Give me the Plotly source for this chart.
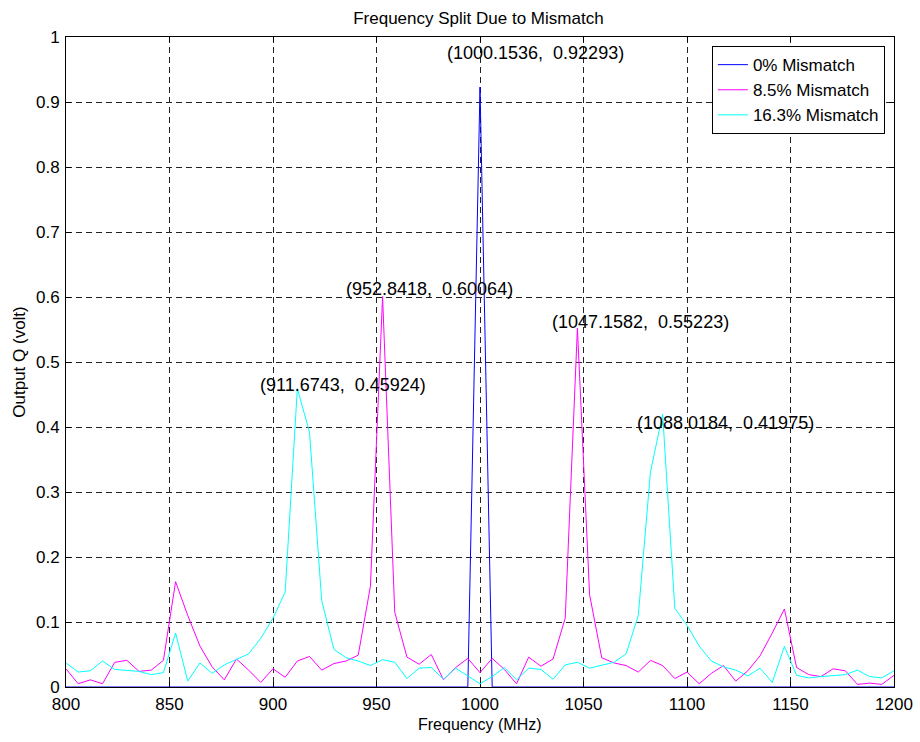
import numpy as np
import plotly.graph_objects as go

# Frequency sweep: 69 samples from 800 to 1200 MHz
freq_start, freq_stop, n_samples = 800.0, 1200.0, 69
freq = np.linspace(freq_start, freq_stop, n_samples)

# Output Q amplitude (volt) for each mismatch case
q_0pct = [0.0] * n_samples

q_8p5pct = [
    0.028, 0.005, 0.011, 0.005, 0.038, 0.041, 0.024, 0.026, 0.041, 0.162,
    0.110, 0.063, 0.031, 0.011, 0.043, 0.026, 0.007, 0.028, 0.015, 0.040,
    0.047, 0.026, 0.036, 0.040, 0.049, 0.155, 0.600, 0.115, 0.046, 0.035,
    0.050, 0.011, 0.030, 0.044, 0.022, 0.044, 0.027, 0.005, 0.046, 0.032,
    0.043, 0.106, 0.552, 0.142, 0.045, 0.037, 0.033, 0.023, 0.041, 0.033,
    0.013, 0.023, 0.005, 0.021, 0.033, 0.009, 0.025, 0.048, 0.083, 0.120,
    0.030, 0.019, 0.016, 0.028, 0.025, 0.004, 0.006, 0.004, 0.018,
]

q_16p3pct = [
    0.037, 0.023, 0.025, 0.040, 0.027, 0.025, 0.024, 0.019, 0.022, 0.083,
    0.009, 0.037, 0.021, 0.034, 0.042, 0.051, 0.075, 0.106, 0.146, 0.459,
    0.392, 0.133, 0.058, 0.045, 0.040, 0.033, 0.042, 0.038, 0.013, 0.029,
    0.030, 0.012, 0.029, 0.017, 0.005, 0.016, 0.030, 0.011, 0.029, 0.027,
    0.012, 0.034, 0.038, 0.029, 0.034, 0.038, 0.051, 0.110, 0.331, 0.420,
    0.121, 0.095, 0.063, 0.040, 0.031, 0.026, 0.017, 0.029, 0.007, 0.0625,
    0.018, 0.014, 0.016, 0.018, 0.019, 0.026, 0.016, 0.014, 0.025,
]

# Peak markers: (series, sample index, frequency, amplitude)
peak_series = ["0%", "8.5%", "8.5%", "16.3%", "16.3%"]
peak_index = [34, 26, 42, 19, 49]
peak_freq = [1000.1536, 952.8418, 1047.1582, 911.6743, 1088.0184]
peak_value = [0.92293, 0.60064, 0.55223, 0.45924, 0.41975]

# Label placement relative to each peak (MHz, volt)
label_dx = [-17.0, -18.5, -13.5, -19.0, -13.0]
label_dy = [0.052, 0.011, 0.009, 0.005, -0.014]

series = {
    "0%": list(q_0pct),
    "8.5%": list(q_8p5pct),
    "16.3%": list(q_16p3pct),
}
# the peak samples carry the stated peak amplitudes
for name, idx, val in zip(peak_series, peak_index, peak_value):
    series[name][idx] = val

names = ["0% Mismatch", "8.5% Mismatch", "16.3% Mismatch"]
colors = ["#0000ff", "#ff00ff", "#00ffff"]

x_ticks = list(range(800, 1201, 50))
y_ticks = [round(0.1 * i, 1) for i in range(11)]
y_tick_text = ["0", "0.1", "0.2", "0.3", "0.4", "0.5", "0.6", "0.7", "0.8", "0.9", "1"]

font_family = "Liberation Sans, Arial, sans-serif"

fig = go.Figure()
for key, name, color in zip(["0%", "8.5%", "16.3%"], names, colors):
    fig.add_trace(go.Scatter(
        x=freq, y=series[key], mode="lines", name=name,
        line=dict(color=color, width=1),
        cliponaxis=False,
    ))

for fx, fy, dx, dy in zip(peak_freq, peak_value, label_dx, label_dy):
    fig.add_annotation(
        x=fx + dx, y=fy + dy, xref="x", yref="y",
        text=f"({fx:.4f},  {fy:.5f})",
        showarrow=False, xanchor="left", yanchor="middle",
        font=dict(family=font_family, size=18, color="black"),
    )

# x-axis caption sits tight under the tick labels
fig.add_annotation(
    x=0.5, y=-0.058, xref="paper", yref="paper",
    text="Frequency (MHz)", showarrow=False,
    xanchor="center", yanchor="middle",
    font=dict(family=font_family, size=16, color="black"),
)

axis_common = dict(
    showline=True, linecolor="black", linewidth=1, mirror="ticks",
    ticks="inside", ticklen=5, tickcolor="black",
    showgrid=True, gridcolor="#222222", gridwidth=1, griddash="6px,4px",
    zeroline=False, layer="below traces", automargin=False,
    tickfont=dict(family=font_family, size=17, color="black"),
)

fig.update_xaxes(
    range=[freq_start, freq_stop], tickvals=x_ticks, ticklabelstandoff=2,
    **axis_common,
)
fig.update_yaxes(
    range=[0, 1], tickvals=y_ticks, ticktext=y_tick_text, ticklabelstandoff=2,
    title=dict(text="Output Q (volt)", standoff=6,
               font=dict(family=font_family, size=17, color="black")),
    **axis_common,
)

fig.update_layout(
    width=920, height=742,
    margin=dict(l=66, r=26, t=37, b=55),
    paper_bgcolor="white", plot_bgcolor="white",
    title=dict(text="Frequency Split Due to Mismatch", x=0.52, xanchor="center",
               y=0.976, yanchor="middle",
               font=dict(family=font_family, size=17, color="black")),
    legend=dict(
        x=0.989, y=0.986, xanchor="right", yanchor="top",
        bgcolor="white", bordercolor="black", borderwidth=1,
        font=dict(family=font_family, size=17, color="black"),
        tracegroupgap=0, itemwidth=30,
    ),
    showlegend=True,
)

fig.write_html("out.html")
